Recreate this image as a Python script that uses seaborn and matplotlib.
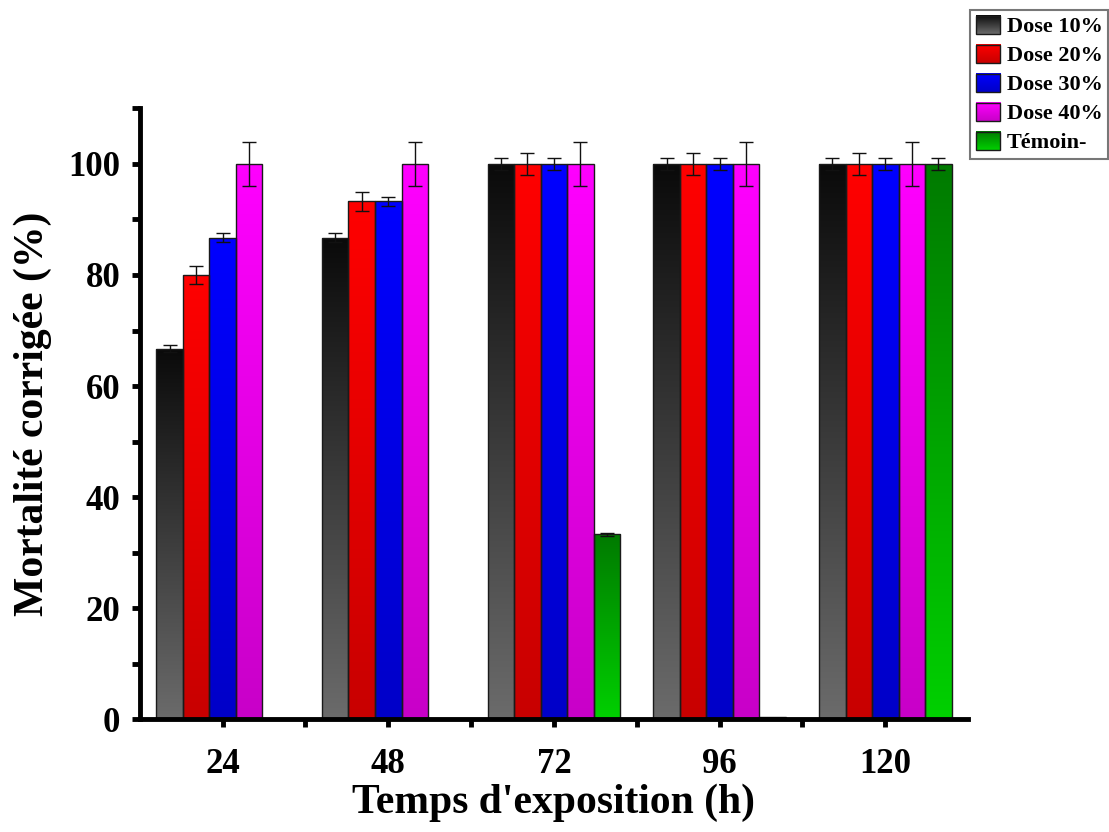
import numpy as np
import pandas as pd
import matplotlib
matplotlib.use("Agg")
import matplotlib.pyplot as plt
import seaborn as sns
from matplotlib.colors import LinearSegmentedColormap
from matplotlib.legend_handler import HandlerBase
from matplotlib.patches import Rectangle
from matplotlib.image import BboxImage
from matplotlib.transforms import Bbox, TransformedBbox
from matplotlib.ticker import FixedLocator

# ---- data ----
times = ["24", "48", "72", "96", "120"]
series = ["Dose 10%", "Dose 20%", "Dose 30%", "Dose 40%", "Témoin-"]
dose10 = [66.7, 86.7, 100, 100, 100]
dose20 = [80.0, 93.3, 100, 100, 100]
dose30 = [86.7, 93.3, 100, 100, 100]
dose40 = [100, 100, 100, 100, 100]
temoin = [0, 0, 33.3, 0.3, 100]
err10 = [0.6, 0.8, 1.0, 1.0, 1.0]
err20 = [1.6, 1.7, 2.0, 2.0, 2.0]
err30 = [0.8, 0.8, 1.0, 1.0, 1.0]
err40 = [4.0, 4.0, 4.0, 4.0, 4.0]
errT = [0, 0, 0.3, 0, 1.0]

values = [dose10, dose20, dose30, dose40, temoin]
errors = [err10, err20, err30, err40, errT]

# gradient colours (top, bottom)
grad = {
    "Dose 10%": ("#0a0a0a", "#6b6b6b"),
    "Dose 20%": ("#ff0000", "#c80000"),
    "Dose 30%": ("#0000ff", "#0000c8"),
    "Dose 40%": ("#ff00ff", "#c800c8"),
    "Témoin-": ("#007a00", "#00d000"),
}
mid = {k: LinearSegmentedColormap.from_list(k, v)(0.5) for k, v in grad.items()}

rows = []
for s, vals in zip(series, values):
    for t, v in zip(times, vals):
        rows.append({"Temps": t, "Serie": s, "Mortalite": v})
df = pd.DataFrame(rows)

sns.set_style("ticks")
plt.rcParams["font.family"] = ["Liberation Serif", "DejaVu Serif"]
plt.rcParams["font.weight"] = "bold"
for k in ["text.color", "axes.labelcolor", "xtick.color", "ytick.color", "axes.edgecolor"]:
    plt.rcParams[k] = "black"

fig = plt.figure(figsize=(11.09, 8.32), dpi=100)
ax = fig.add_axes([0.126, 0.1358, 0.747, 0.7338])

sns.barplot(data=df, x="Temps", y="Mortalite", hue="Serie", order=times,
            hue_order=series, palette=mid, width=0.8, errorbar=None,
            edgecolor="#1a1a1a", linewidth=1.0, legend=False, ax=ax)

gradient = np.linspace(0, 1, 256).reshape(-1, 1)
for cont, s, errs in zip(ax.containers, series, errors):
    cmap = LinearSegmentedColormap.from_list(s, grad[s])
    xs, hs = [], []
    for p in cont.patches:
        x, w, h = p.get_x(), p.get_width(), p.get_height()
        xs.append(x + w / 2)
        hs.append(h)
        if h > 0:
            im = ax.imshow(gradient, cmap=cmap, aspect="auto",
                           extent=[x, x + w, 0, h], origin="upper",
                           interpolation="bilinear", zorder=p.get_zorder() - 0.1)
            im.set_clip_path(p)
            p.set_facecolor("none")
    xe = [x for x, e in zip(xs, errs) if e > 0]
    he = [h for h, e in zip(hs, errs) if e > 0]
    ee = [e for e in errs if e > 0]
    ax.errorbar(xe, he, yerr=ee, fmt="none", ecolor="#111111",
                elinewidth=1.0, capsize=5, capthick=1.0, zorder=5)

ax.set_xlim(-0.5, 4.5)
ax.set_ylim(0, 110)
ax.set_yticks([0, 20, 40, 60, 80, 100])
ax.yaxis.set_minor_locator(FixedLocator([10, 30, 50, 70, 90, 110]))
ax.xaxis.set_minor_locator(FixedLocator([0.5, 1.5, 2.5, 3.5]))

for side in ["top", "right"]:
    ax.spines[side].set_visible(False)
for side in ["left", "bottom"]:
    ax.spines[side].set_linewidth(3.5)
    ax.spines[side].set_color("black")

ax.tick_params(axis="both", which="major", direction="out", length=6,
               width=3.5, color="black", labelsize=25, labelcolor="black")
ax.tick_params(axis="both", which="minor", direction="out", length=6,
               width=3.5, color="black")
ax.tick_params(axis="x", which="major", pad=15)
ax.tick_params(axis="y", which="major", pad=8)
for lab in ax.get_xticklabels() + ax.get_yticklabels():
    lab.set_fontweight("bold")

ax.set_xlabel("Temps d'exposition (h)", fontsize=30, fontweight="bold",
              labelpad=2, color="black")
ax.set_ylabel("Mortalité corrigée (%)", fontsize=30, fontweight="bold",
              labelpad=12, color="black")


class GradientHandler(HandlerBase):
    def create_artists(self, legend, orig_handle, xdescent, ydescent, width,
                       height, fontsize, trans):
        s = orig_handle.get_label()
        cmap = LinearSegmentedColormap.from_list(s, grad[s])
        bb = TransformedBbox(Bbox.from_bounds(-xdescent, -ydescent, width, height), trans)
        img = BboxImage(bb, cmap=cmap, interpolation="bilinear")
        img.set_data(gradient)
        rect = Rectangle((-xdescent, -ydescent), width, height, facecolor="none",
                         edgecolor="#1a1a1a", linewidth=1.0, transform=trans)
        return [img, rect]


handles = [Rectangle((0, 0), 1, 1, label=s) for s in series]
leg = fig.legend(handles=handles, labels=series, loc="upper right",
                 bbox_to_anchor=(0.9995, 0.988), borderaxespad=0,
                 handler_map={Rectangle: GradientHandler()},
                 prop={"family": "Liberation Serif", "weight": "bold", "size": 16},
                 frameon=True, fancybox=False, edgecolor="#555555",
                 handlelength=1.1, handleheight=0.9, handletextpad=0.3,
                 labelspacing=0.32, borderpad=0.25)
leg.get_frame().set_linewidth(1.5)
for t in leg.get_texts():
    t.set_color("black")

fig.savefig("out.png", dpi=100)
